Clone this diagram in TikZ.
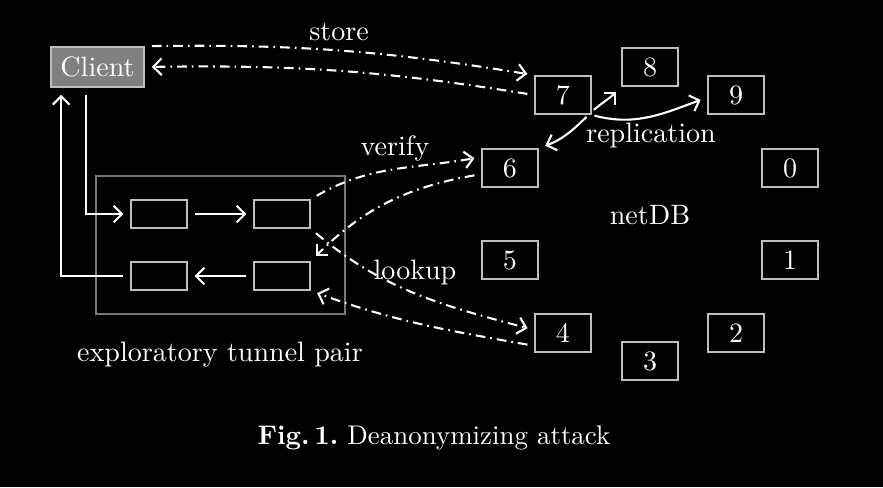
\documentclass[tikz,border=0pt]{standalone}
\usepackage{xcolor}
\usepackage{tikz}
\usetikzlibrary{arrows.meta, positioning, calc}
\definecolor{boxgray}{RGB}{191,191,191}
\definecolor{clientfill}{RGB}{128,128,128}
\definecolor{tunnelgray}{RGB}{120,120,120}

\begin{document}
\begin{tikzpicture}[
        x=0.36pt, y=-0.36pt,
        every node/.style={text=white, font=\fontsize{10.1}{12}\selectfont},
        dbnode/.style={rectangle, draw=boxgray, line width=0.7pt, minimum width=20pt, minimum height=13.6pt, inner sep=0pt},
        hop/.style={rectangle, draw=boxgray, line width=0.6pt, minimum width=20pt, minimum height=10pt, inner sep=0pt},
        arrow/.style={-{Straight Barb[length=3pt,width=6pt]}, line width=0.75pt, white, shorten >=2.5pt, shorten <=2.5pt},
        msg/.style={arrow, dash pattern=on 3.5pt off 1.8pt on 0.6pt off 1.8pt}
    ]
        \path[use as bounding box, fill=black] (0,0) rectangle (883,487);

        \node[draw=tunnelgray, line width=0.5pt, minimum width=89.6pt, minimum height=49.7pt] (tunnel) at (220.5,245) {};
        \node[rectangle, fill=clientfill, draw=boxgray, line width=0.6pt, minimum width=33.5pt, minimum height=14.4pt, inner sep=0pt] (client) at (97.5,67) {Client};

        \node[hop] (out1) at (159,214) {};
        \node[hop] (out2) at (282,214) {};
        \node[hop] (in1)  at (159,276) {};
        \node[hop] (in2)  at (282,276) {};

        \node[dbnode] (n0) at (790,168) {0};
        \node[dbnode] (n1) at (790,260) {1};
        \node[dbnode] (n2) at (736,333) {2};
        \node[dbnode] (n3) at (650,361) {3};
        \node[dbnode] (n4) at (563,333) {4};
        \node[dbnode] (n5) at (510,260) {5};
        \node[dbnode] (n6) at (510,168) {6};
        \node[dbnode] (n7) at (563,95)  {7};
        \node[dbnode] (n8) at (650,67)  {8};
        \node[dbnode] (n9) at (736,95)  {9};

        \draw[arrow] ([xshift=-4.1pt]client.south) |- (out1.west);
        \draw[arrow] (in1.west) -| ([xshift=-13.1pt]client.south);
        \draw[arrow] (out1) -- (out2);
        \draw[arrow] (in2) -- (in1);

        % store / verify / lookup
        \draw[msg, bend left=5] (client.north east) to (n7.north west);
        \draw[msg, bend right=5] (n7.west) to (client.east);
        \draw[msg] (out2.north east) to[out=30, in=190] (n6.159);
        \draw[msg] (n6.192) to[out=190, in=45] (in2.north east);
        \draw[msg] (out2.south east) to[out=-40, in=165] (n4.174);
        \draw[msg] (n4.204) to[out=170, in=-20] (in2.south east);

        % replication
        \draw[arrow, shorten <=1pt] (n7.-30) to[out=40, in=225] (n8.south west);
        \draw[arrow, shorten <=1pt] (n7.south east) to[out=-15, in=200] (n9.185);
        \draw[arrow, shorten <=1pt] (n7.-38) to[out=225, in=20] (n6.north east);

        \node (storelbl)   at (339,32)  {store};
        \node (verifylbl)  at (395,148) {verify};
        \node (lookuplbl)  at (415,272) {lookup};
        \node (repllbl)    at (651,135) {replication};
        \node (netdblbl)   at (650,215) {netDB};
        \node (tunnellbl)  at (220,355) {exploratory tunnel pair};
        \node[font=\fontsize{9.7}{12}\selectfont] (caption) at (434,438) {{\bfseries Fig.\,1.}\ Deanonymizing attack};
    \end{tikzpicture}
\end{document}
